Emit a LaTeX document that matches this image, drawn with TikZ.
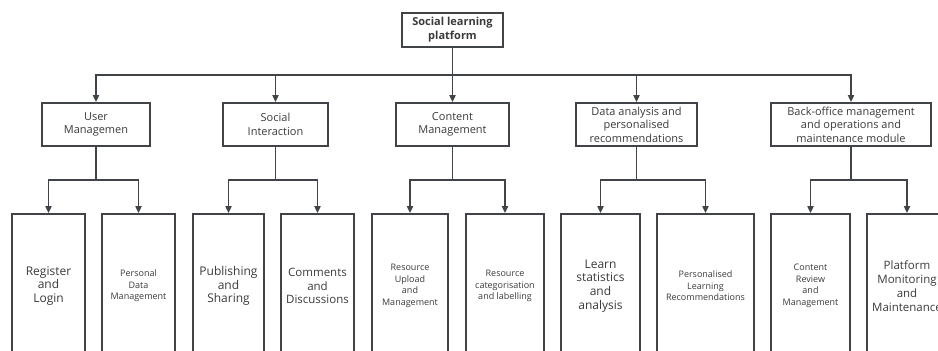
\documentclass[tikz,border=0pt]{standalone}
\usepackage{fontspec}
\setmainfont{Open Sans}
\usetikzlibrary{arrows.meta}
\definecolor{ln}{HTML}{404448}
\definecolor{tx}{HTML}{3A3A3A}
\tikzset{
  box/.style={draw=ln, line width=1.7pt, rectangle, inner sep=1pt, align=center, text=tx},
  topbox/.style={box, minimum height=34pt, font=\fontsize{11}{14}\selectfont\bfseries},
  midbox/.style={box, minimum height=43pt, font=\fontsize{11}{13.5}\selectfont},
  leafbox/.style={box, minimum height=144pt},
  big/.style={font=\fontsize{12}{13.8}\selectfont},
  med/.style={font=\fontsize{11.5}{13.8}\selectfont},
  small/.style={font=\fontsize{9}{11.5}\selectfont},
  conn/.style={draw=ln, line width=1.7pt},
  arr/.style={conn, -{Triangle[length=7pt,width=6pt]}},
}
\begin{document}
\begin{tikzpicture}[x=1pt,y=-1pt]
\useasboundingbox (0,0) rectangle (938,351);
\clip (0,0) rectangle (938,351);
% root
\node[topbox, minimum width=101pt] (root) at (452.5,30) {Social learning\\platform};
% level 1
\node[midbox, minimum width=108pt] (um) at (96,124.5) {User\\Managemen};
\node[midbox, minimum width=105pt] (si) at (275.5,124.5) {Social\\Interaction};
\node[midbox, minimum width=113pt] (cm) at (452.5,124.5) {Content\\Management};
\node[midbox, minimum width=121pt] (da) at (636.5,124.5) {Data analysis and\\personalised\\recommendations};
\node[midbox, minimum width=160pt] (bo) at (851,124.5) {Back-office management\\and operations and\\maintenance module};
% level 2
\node[leafbox, big, minimum width=73pt] (rl) at (48.5,286) {Register\\and\\Login};
\node[leafbox, small, minimum width=73pt] (pd) at (138.5,286) {Personal\\Data\\Management};
\node[leafbox, big, minimum width=71pt] (ps) at (228.5,286) {Publishing\\and\\Sharing};
\node[leafbox, med, minimum width=73pt] (cd) at (317.5,286) {Comments\\and\\Discussions};
\node[leafbox, small, minimum width=76pt] (ru) at (410,286) {Resource\\Upload\\and\\Management};
\node[leafbox, small, minimum width=78pt] (rc) at (505,286) {Resource\\categorisation\\and labelling};
\node[leafbox, big, minimum width=79pt] (ls) at (600.5,286) {Learn\\statistics\\and\\analysis};
\node[leafbox, small, minimum width=97pt] (pl) at (705.5,286) {Personalised\\Learning\\Recommendations};
\node[leafbox, small, minimum width=79pt] (cr) at (810.5,286) {Content\\Review\\and\\Management};
\node[leafbox, med, minimum width=80pt] (pm) at (907,286) {Platform\\Monitoring\\and\\Maintenance};
% root connectors
\coordinate (bus) at (452.5,75);
\draw[arr] (root.south) -- (cm.north);
\draw[arr] (bus) -| (um.north);
\draw[arr] (bus) -| (si.north);
\draw[arr] (bus) -| (da.north);
\draw[arr] (bus) -| (bo.north);
% level 2 connectors
\foreach \p/\a/\b in {um/rl/pd, si/ps/cd, cm/ru/rc, da/ls/pl, bo/cr/pm}{
  \path (\p.south) ++(0,33) coordinate (\p j);
  \draw[conn] (\p.south) -- (\p j);
  \draw[arr] (\p j) -| (\a.north);
  \draw[arr] (\p j) -| (\b.north);
}
\end{tikzpicture}
\end{document}
